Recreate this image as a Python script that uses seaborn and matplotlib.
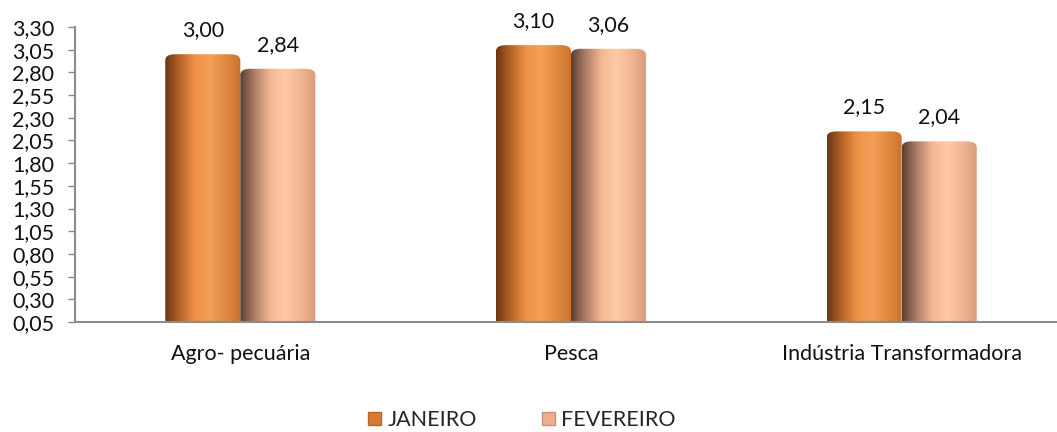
import numpy as np
import pandas as pd
import matplotlib
matplotlib.use("Agg")
import matplotlib.pyplot as plt
import seaborn as sns
from matplotlib.colors import LinearSegmentedColormap
from matplotlib.patches import Patch, FancyBboxPatch

categories = ["Agro- pecuária", "Pesca", "Indústria Transformadora"]
series_names = ["JANEIRO", "FEVEREIRO"]
janeiro = [3.00, 3.10, 2.15]
fevereiro = [2.84, 3.06, 2.04]
yticks = [0.05, 0.30, 0.55, 0.80, 1.05, 1.30, 1.55, 1.80, 2.05, 2.30, 2.55, 2.80, 3.05, 3.30]

df = pd.DataFrame({
    "cat": categories * 2,
    "mes": [series_names[0]] * 3 + [series_names[1]] * 3,
    "val": janeiro + fevereiro,
})

sns.set_style("white")
plt.rcParams['font.family'] = ['Lato', 'DejaVu Sans']
FS = 15.5

fig = plt.figure(figsize=(10.57, 4.32), dpi=100)
ax = fig.add_axes([75/1057, (432-322)/432, 992/1057, 295/432])

base = {"JANEIRO": "#E8883A", "FEVEREIRO": "#F6B894"}
sns.barplot(data=df, x="cat", y="val", hue="mes", palette=base, width=0.454,
            gap=0, ax=ax, legend=False, saturation=1, order=categories,
            hue_order=series_names)

grad = {
    "JANEIRO": LinearSegmentedColormap.from_list("j", ["#6A3612", "#B8652A", "#EE9248", "#F4A05A", "#E08A40", "#C9722F"]),
    "FEVEREIRO": LinearSegmentedColormap.from_list("f", ["#5A4032", "#B0806A", "#F4B894", "#FFCBA6", "#F0B592", "#D99C7C"]),
}
gimg = np.linspace(0, 1, 256).reshape(1, -1)
ybot = yticks[0]
for i, p in enumerate(list(ax.patches)):
    name = series_names[i // 3]
    x0, w = p.get_x(), p.get_width()
    h = p.get_height()
    # rounded-top clip shape
    clip = FancyBboxPatch((x0, ybot - 0.2), w, h - ybot + 0.2,
                          boxstyle="round,pad=0,rounding_size=0.03",
                          mutation_aspect=2.2, transform=ax.transData,
                          facecolor="none", edgecolor="none")
    ax.add_patch(clip)
    im = ax.imshow(gimg, cmap=grad[name], aspect="auto",
                   extent=[x0, x0 + w, ybot, h], zorder=p.get_zorder(),
                   interpolation="bilinear")
    im.set_clip_path(clip)
    p.set_facecolor("none")
    p.set_edgecolor("none")
    ax.annotate(f"{h:.2f}".replace(".", ","), (x0 + w / 2, h),
                xytext=(0, 10), textcoords="offset points",
                ha="center", va="bottom", fontsize=FS, color="#111111")

ax.set_xlim(-0.5, 2.5)
ax.set_ylim(0.05, 3.30)
ax.set_yticks(yticks)
ax.set_yticklabels([f"{t:.2f}".replace(".", ",") for t in yticks], fontsize=FS, color="#111111")
ax.tick_params(axis="x", labelsize=FS, colors="#111111", length=0, pad=16)
ax.tick_params(axis="y", length=5, width=1, color="#888888", left=True, pad=10)
ax.set_xlabel("")
ax.set_ylabel("")
for s in ["top", "right"]:
    ax.spines[s].set_visible(False)
for s in ["left", "bottom"]:
    ax.spines[s].set_color("#8C8C8C")
    ax.spines[s].set_linewidth(1.5)

handles = [Patch(facecolor="#D97A32", edgecolor="#B8652A"),
           Patch(facecolor="#EDAE8C", edgecolor="#C99478")]
fig.legend(handles, series_names, loc="center", bbox_to_anchor=(522/1057, 12/432),
           ncol=2, frameon=False, fontsize=FS, handlelength=0.6, handleheight=0.6,
           handletextpad=0.3, columnspacing=3.0)

fig.savefig("out.png", dpi=100)
